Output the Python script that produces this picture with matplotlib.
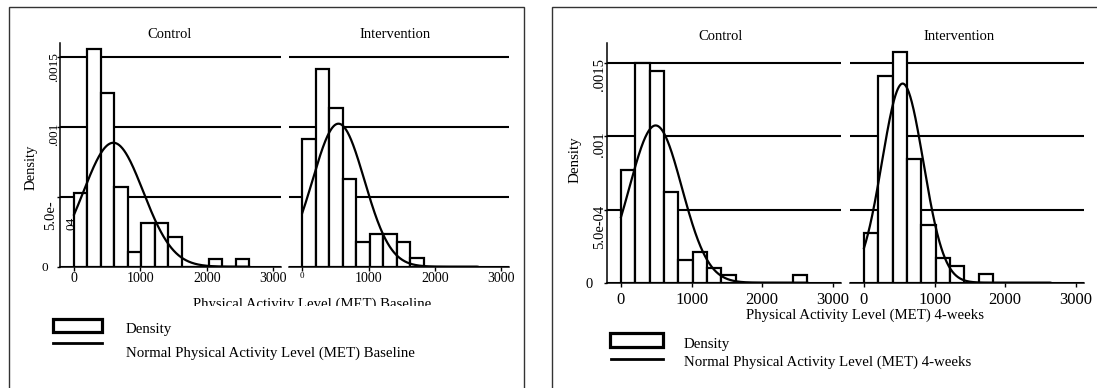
import numpy as np
import matplotlib
matplotlib.use("Agg")
import matplotlib.pyplot as plt
import matplotlib.transforms as mtransforms
from matplotlib.patches import Rectangle
from matplotlib.lines import Line2D

plt.rcParams['font.family'] = ['Liberation Serif', 'DejaVu Serif']

# ---------------- data ----------------
groups = ["Control", "Intervention"]
bin_edges = [0, 203, 406, 609, 812, 1015, 1218, 1421, 1624, 1827, 2030, 2233, 2436, 2640]

baseline_control = [0.000524, 0.001555, 0.001245, 0.000571, 0.000107, 0.000314, 0.000314,
                    0.000212, 0.0, 0.0, 0.000055, 0.0, 0.000055]
baseline_intervention = [0.00091, 0.001417, 0.001136, 0.000624, 0.000174, 0.000231, 0.000231,
                         0.000174, 0.00006, 0.0, 0.0, 0.0, 0.0]
weeks4_control = [0.000773, 0.0015, 0.001446, 0.00062, 0.000155, 0.000209, 0.000102,
                  0.000052, 0.0, 0.0, 0.0, 0.0, 0.000052]
weeks4_intervention = [0.000341, 0.00141, 0.001575, 0.000844, 0.000396, 0.000171, 0.000116,
                       0.0, 0.000057, 0.0, 0.0, 0.0, 0.0]

# normal fit (mean, sd) per group
normal_baseline_control = (593, 450)
normal_baseline_intervention = (545, 390)
normal_weeks4_control = (491, 371)
normal_weeks4_intervention = (548, 293)

x_ticks = [0, 1000, 2000, 3000]
x_tick_labels = ["0", "1000", "2000", "3000"]
y_ticks = [0, 0.0005, 0.001, 0.0015]

xlabel_baseline = "Physical Activity Level (MET) Baseline"
xlabel_weeks4 = "Physical Activity Level (MET) 4-weeks"
legend_hist = "Density"
legend_norm_baseline = "Normal Physical Activity Level (MET) Baseline"
legend_norm_weeks4 = "Normal Physical Activity Level (MET) 4-weeks"

# ---------------- layout helpers ----------------
W, H = 1097, 388
fig = plt.figure(figsize=(W / 100, H / 100), dpi=100)
PT = 0.72  # points per pixel


def fx(x):
    return x / W


def fy(y):
    return 1 - y / H


def add_ax(x0, x1, ytop, ybot):
    return fig.add_axes([fx(x0), fy(ybot), (x1 - x0) / W, (ybot - ytop) / H])


XLIM = (-205, 3120)
LW_BAR = 1.6
LW_GRID = 1.5
LW_CURVE = 1.6
LW_AXIS = 1.1


def draw_panel(ax, heights, normal, ymax, is_left, tick_fs, tick_pad):
    ax.set_xlim(*XLIM)
    ax.set_ylim(0, ymax)
    edges = np.array(bin_edges, dtype=float)
    ax.bar(edges[:-1], heights, width=np.diff(edges), align='edge',
           facecolor='white', edgecolor='black', linewidth=LW_BAR, zorder=3)
    mu, sd = normal
    xs = np.linspace(edges[0], edges[-1], 500)
    ys = np.exp(-0.5 * ((xs - mu) / sd) ** 2) / (sd * np.sqrt(2 * np.pi))
    ax.plot(xs, ys, color='black', linewidth=LW_CURVE, zorder=4)
    ax.set_yticks(y_ticks)
    ax.yaxis.grid(True, color='black', linewidth=LW_GRID)
    ax.set_axisbelow(True)
    ax.set_xticks(x_ticks)
    ax.set_xticklabels(x_tick_labels)
    ax.tick_params(axis='x', length=4 * PT, width=1.0, labelsize=tick_fs, pad=tick_pad)
    for s in ['top', 'right']:
        ax.spines[s].set_visible(False)
    ax.spines['bottom'].set_linewidth(LW_AXIS)
    if is_left:
        ax.spines['left'].set_linewidth(LW_AXIS)
        ax.tick_params(axis='y', length=3 * PT, width=1.0)
    else:
        ax.spines['left'].set_visible(False)
        ax.tick_params(axis='y', length=0, labelleft=False)
    ax.patch.set_alpha(0)


def style_yticks(ax, labels, fs, zero_pad, rot_pad):
    ax.set_yticklabels(labels)
    ticks = ax.yaxis.get_major_ticks()
    for i, t in enumerate(ticks):
        t.label1.set_fontsize(fs)
        if i == 0:
            t.label1.set_rotation(0)
            t.set_pad(zero_pad)
        else:
            t.label1.set_rotation(90)
            t.set_pad(rot_pad)


# ---------------- panel borders ----------------
fig.add_artist(Rectangle((fx(9), fy(400)), (524 - 9) / W, (400 - 7) / H, transform=fig.transFigure,
                         fill=False, edgecolor='#333333', linewidth=1.0))
fig.add_artist(Rectangle((fx(551.7), fy(400)), (1110 - 551.7) / W, (400 - 7) / H,
                         transform=fig.transFigure, fill=False, edgecolor='#333333', linewidth=1.0))

# ---------------- left figure (baseline) ----------------
L_ZERO, L_TOP = 266.7, 43.0
ax1 = add_ax(60.4, 281.0, L_TOP, L_ZERO)
ax2 = add_ax(288.7, 509.3, L_TOP, L_ZERO)
draw_panel(ax1, baseline_control, normal_baseline_control, 0.0016, True, 10, 0.7)
draw_panel(ax2, baseline_intervention, normal_baseline_intervention, 0.0016, False, 10, 0.7)
style_yticks(ax1, ["0", "", ".001", ".0015"], 9.5, 6.8, -2.0)
# wrapped 5.0e-04 label
t_y = mtransforms.offset_copy(ax1.get_yaxis_transform(), fig=fig, x=-3.2 * PT, y=-33 * PT, units='points')
ax1.text(0, 0.0005, "5.0e-", rotation=90, ha='right', va='bottom', fontsize=10.5,
         transform=t_y, clip_on=False)
t_y2 = mtransforms.offset_copy(ax1.get_yaxis_transform(), fig=fig, x=17.5 * PT, y=-33 * PT, units='points')
ax1.text(0, 0.0005, "04", rotation=90, ha='right', va='bottom', fontsize=9.5,
         transform=t_y2, clip_on=False, zorder=5)
# small zero on intervention axis
ax2.get_xticklabels()[0].set_fontsize(6.5)

fig.text(fx(170), fy(35), groups[0], ha='center', va='center', fontsize=10.5)
fig.text(fx(395), fy(35), groups[1], ha='center', va='center', fontsize=10.5)
fig.text(fx(31), fy(167), "Density", rotation=90, ha='center', va='center', fontsize=10.5)
xl = fig.text(fx(312), fy(307.5), xlabel_baseline, ha='center', va='baseline', fontsize=10.6)
xl.set_clip_box(mtransforms.TransformedBbox(
    mtransforms.Bbox([[0, fy(306)], [1, 1]]), fig.transFigure))
xl.set_clip_on(True)

# legend (left)
fig.add_artist(Rectangle((fx(52.7), fy(332)), (101.7 - 52.7) / W, (332 - 319.3) / H,
                         transform=fig.transFigure, facecolor='white', edgecolor='black',
                         linewidth=2.3))
fig.add_artist(Line2D([fx(53), fx(102)], [fy(343), fy(343)], transform=fig.transFigure,
                      color='black', linewidth=2.0))
fig.text(fx(126), fy(333.3), legend_hist, ha='left', va='baseline', fontsize=10.7)
fig.text(fx(126), fy(357.3), legend_norm_baseline, ha='left', va='baseline', fontsize=10.7)

# ---------------- right figure (4 weeks) ----------------
R_ZERO, R_TOP = 282.7, 43.3
ax3 = add_ax(606.5, 841.2, R_TOP, R_ZERO)
ax4 = add_ax(849.5, 1084.2, R_TOP, R_ZERO)
draw_panel(ax3, weeks4_control, normal_weeks4_control, 0.001637, True, 12, 3.6)
draw_panel(ax4, weeks4_intervention, normal_weeks4_intervention, 0.001637, False, 12, 3.6)
style_yticks(ax3, ["0", "5.0e-04", ".001", ".0015"], 10.5, 7.6, -1.8)

fig.text(fx(720.7), fy(36.5), groups[0], ha='center', va='center', fontsize=10.5)
fig.text(fx(959.3), fy(36.5), groups[1], ha='center', va='center', fontsize=10.5)
fig.text(fx(575), fy(160), "Density", rotation=90, ha='center', va='center', fontsize=10.8)
fig.text(fx(865), fy(319.3), xlabel_weeks4, ha='center', va='baseline', fontsize=10.7)

# legend (right)
fig.add_artist(Rectangle((fx(610), fy(347.3)), (663.3 - 610) / W, (347.3 - 332.7) / H,
                         transform=fig.transFigure, facecolor='white', edgecolor='black',
                         linewidth=2.3))
fig.add_artist(Line2D([fx(611), fx(663)], [fy(359.3), fy(359.3)], transform=fig.transFigure,
                      color='black', linewidth=2.0))
fig.text(fx(684), fy(347.7), legend_hist, ha='left', va='baseline', fontsize=10.7)
fig.text(fx(684), fy(366), legend_norm_weeks4, ha='left', va='baseline', fontsize=10.7)

fig.savefig("out.png", dpi=100, facecolor='white')
